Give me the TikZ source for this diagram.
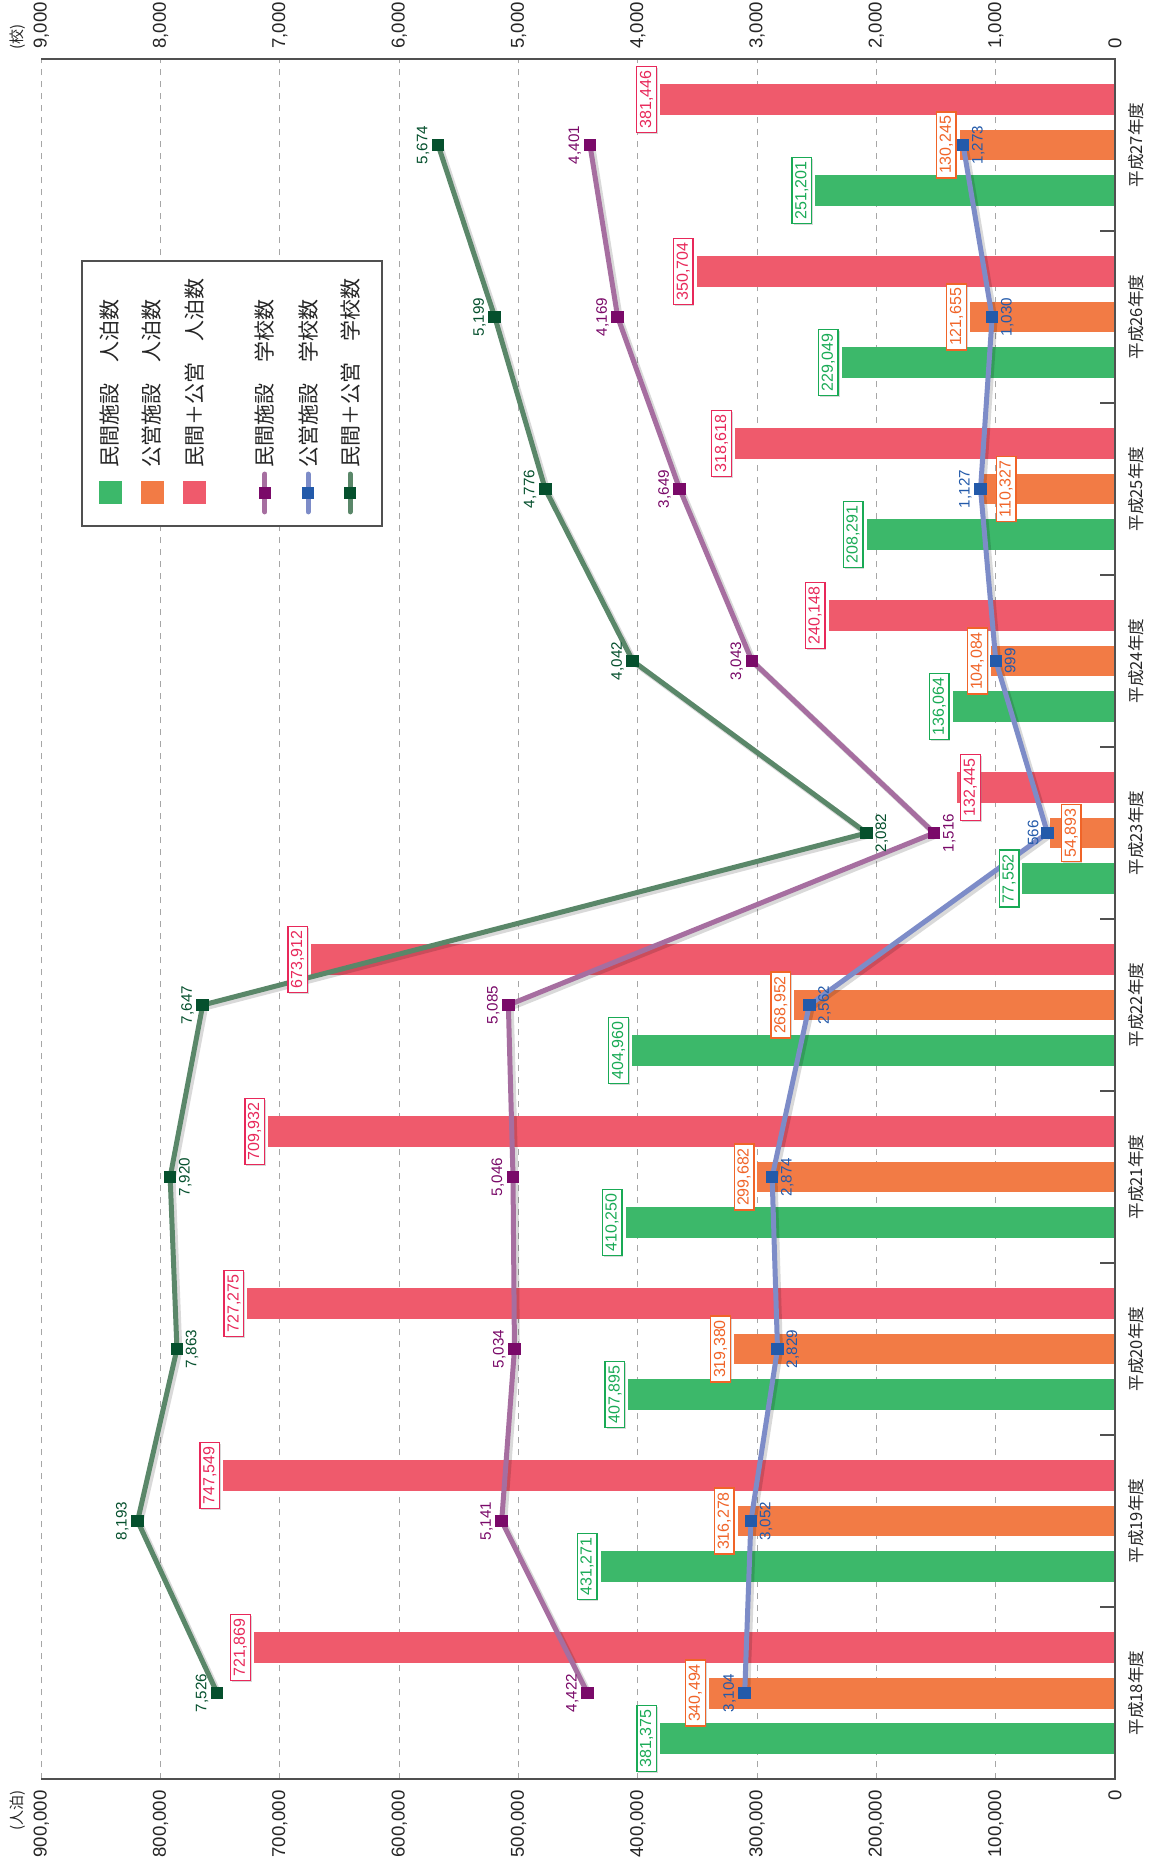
\documentclass[tikz,border=0pt]{standalone}
\usepackage{fontspec}
\setmainfont{Liberation Sans}
\newfontfamily\cjk{Noto Sans CJK JP}
\usetikzlibrary{calc,shadows}

\definecolor{cBarMin}{RGB}{60,184,106}
\definecolor{cBarPub}{RGB}{242,123,69}
\definecolor{cBarTot}{RGB}{239,90,108}
\definecolor{cLblMin}{RGB}{25,170,85}
\definecolor{cLblPub}{RGB}{240,100,40}
\definecolor{cLblTot}{RGB}{232,40,90}
\definecolor{cLnMin}{RGB}{166,110,160}
\definecolor{cMkMin}{RGB}{122,10,105}
\definecolor{cLnPub}{RGB}{125,140,200}
\definecolor{cMkPub}{RGB}{35,90,170}
\definecolor{cLnTot}{RGB}{90,135,105}
\definecolor{cMkTot}{RGB}{5,80,45}
\definecolor{cAxis}{RGB}{80,80,80}

\begin{document}
\begin{tikzpicture}[
  every node/.style={inner sep=1pt},
  bmin/.style={fill=cBarMin},
  bpub/.style={fill=cBarPub},
  btot/.style={fill=cBarTot},
  blbl/.style={draw=#1, text=#1, fill=white, line width=.7pt, inner xsep=2pt, inner ysep=1.6pt, outer sep=1.8pt, font=\fontsize{8}{9}\selectfont, drop shadow={shadow xshift=.7pt, shadow yshift=-.7pt, opacity=.3}},
  plbl/.style={text=#1, inner sep=.3pt, outer sep=.8pt, font=\fontsize{7.6}{8}\selectfont},
  sline/.style={line width=2.5pt, draw=#1, line join=round, line cap=round},
  sshadow/.style={line width=3pt, draw=black, opacity=.15, line join=round, transform canvas={xshift=1.2pt, yshift=-1.2pt}},
  smark/.style={fill=#1, rectangle, minimum size=6.3pt, inner sep=0pt},
  gridln/.style={gray!70, line width=.5pt, dash pattern=on 3pt off 3pt},
  frameln/.style={cAxis, line width=1pt},
  axlbl/.style={font=\fontsize{9.3}{10}\selectfont, text=black!85, inner sep=0pt},
  yrlbl/.style={font=\cjk\fontsize{8.3}{9}\selectfont, text=black!85, inner sep=0pt},
  unitlbl/.style={font=\cjk\fontsize{7.5}{8}\selectfont, text=black!85, inner sep=0pt},
  legtxt/.style={font=\cjk\fontsize{10.5}{11}\selectfont, text=black!85, inner sep=0pt},
  swatch/.style={fill=#1, minimum size=11.5pt, inner sep=0pt},
]
  \useasboundingbox (0,0) rectangle (577pt,-932pt);
  \fill[white] (0,0) rectangle (577pt,-932pt);

  \begin{scope}[shift={(557.5pt,-889.5pt)}, rotate=90, x=86pt, y=0.5965pt, transform shape]
  % grid
  \draw[gridln] (0,100) -- (10,100) (0,200) -- (10,200) (0,300) -- (10,300)
    (0,400) -- (10,400) (0,500) -- (10,500) (0,600) -- (10,600)
    (0,700) -- (10,700) (0,800) -- (10,800) (0,900) -- (10,900);

  % bars
  \fill[bmin] (0.145,0) rectangle (0.325,381.375);
  \fill[bpub] (0.41,0) rectangle (0.59,340.494);
  \fill[btot] (0.675,0) rectangle (0.855,721.869);
  \fill[bmin] (1.145,0) rectangle (1.325,431.271);
  \fill[bpub] (1.41,0) rectangle (1.59,316.278);
  \fill[btot] (1.675,0) rectangle (1.855,747.549);
  \fill[bmin] (2.145,0) rectangle (2.325,407.895);
  \fill[bpub] (2.41,0) rectangle (2.59,319.380);
  \fill[btot] (2.675,0) rectangle (2.855,727.275);
  \fill[bmin] (3.145,0) rectangle (3.325,410.250);
  \fill[bpub] (3.41,0) rectangle (3.59,299.682);
  \fill[btot] (3.675,0) rectangle (3.855,709.932);
  \fill[bmin] (4.145,0) rectangle (4.325,404.960);
  \fill[bpub] (4.41,0) rectangle (4.59,268.952);
  \fill[btot] (4.675,0) rectangle (4.855,673.912);
  \fill[bmin] (5.145,0) rectangle (5.325,77.552);
  \fill[bpub] (5.41,0) rectangle (5.59,54.893);
  \fill[btot] (5.675,0) rectangle (5.855,132.445);
  \fill[bmin] (6.145,0) rectangle (6.325,136.064);
  \fill[bpub] (6.41,0) rectangle (6.59,104.084);
  \fill[btot] (6.675,0) rectangle (6.855,240.148);
  \fill[bmin] (7.145,0) rectangle (7.325,208.291);
  \fill[bpub] (7.41,0) rectangle (7.59,110.327);
  \fill[btot] (7.675,0) rectangle (7.855,318.618);
  \fill[bmin] (8.145,0) rectangle (8.325,229.049);
  \fill[bpub] (8.41,0) rectangle (8.59,121.655);
  \fill[btot] (8.675,0) rectangle (8.855,350.704);
  \fill[bmin] (9.145,0) rectangle (9.325,251.201);
  \fill[bpub] (9.41,0) rectangle (9.59,130.245);
  \fill[btot] (9.675,0) rectangle (9.855,381.446);

  % frame and ticks
  \draw[frameln] (0,900) -- (0,0) -- (10,0) -- (10,900);
  \draw[frameln, line width=.7pt] (1,0) -- (1,12.6) (2,0) -- (2,12.6) (3,0) -- (3,12.6)
    (4,0) -- (4,12.6) (5,0) -- (5,12.6) (6,0) -- (6,12.6)
    (7,0) -- (7,12.6) (8,0) -- (8,12.6) (9,0) -- (9,12.6);

  % school points
  \coordinate (smin18) at (0.5,442.2);
  \coordinate (smin19) at (1.5,514.1);
  \coordinate (smin20) at (2.5,503.4);
  \coordinate (smin21) at (3.5,504.6);
  \coordinate (smin22) at (4.5,508.5);
  \coordinate (smin23) at (5.5,151.6);
  \coordinate (smin24) at (6.5,304.3);
  \coordinate (smin25) at (7.5,364.9);
  \coordinate (smin26) at (8.5,416.9);
  \coordinate (smin27) at (9.5,440.1);
  \coordinate (spub18) at (0.5,310.4);
  \coordinate (spub19) at (1.5,305.2);
  \coordinate (spub20) at (2.5,282.9);
  \coordinate (spub21) at (3.5,287.4);
  \coordinate (spub22) at (4.5,256.2);
  \coordinate (spub23) at (5.5,56.6);
  \coordinate (spub24) at (6.5,99.9);
  \coordinate (spub25) at (7.5,112.7);
  \coordinate (spub26) at (8.5,103.0);
  \coordinate (spub27) at (9.5,127.3);
  \coordinate (stot18) at (0.5,752.6);
  \coordinate (stot19) at (1.5,819.3);
  \coordinate (stot20) at (2.5,786.3);
  \coordinate (stot21) at (3.5,792.0);
  \coordinate (stot22) at (4.5,764.7);
  \coordinate (stot23) at (5.5,208.2);
  \coordinate (stot24) at (6.5,404.2);
  \coordinate (stot25) at (7.5,477.6);
  \coordinate (stot26) at (8.5,519.9);
  \coordinate (stot27) at (9.5,567.4);

  \draw[sshadow] (smin18) -- (smin19) -- (smin20) -- (smin21) -- (smin22) -- (smin23) -- (smin24) -- (smin25) -- (smin26) -- (smin27);
  \draw[sshadow] (spub18) -- (spub19) -- (spub20) -- (spub21) -- (spub22) -- (spub23) -- (spub24) -- (spub25) -- (spub26) -- (spub27);
  \draw[sshadow] (stot18) -- (stot19) -- (stot20) -- (stot21) -- (stot22) -- (stot23) -- (stot24) -- (stot25) -- (stot26) -- (stot27);
  \draw[sline=cLnMin] (smin18) -- (smin19) -- (smin20) -- (smin21) -- (smin22) -- (smin23) -- (smin24) -- (smin25) -- (smin26) -- (smin27);
  \draw[sline=cLnPub] (spub18) -- (spub19) -- (spub20) -- (spub21) -- (spub22) -- (spub23) -- (spub24) -- (spub25) -- (spub26) -- (spub27);
  \draw[sline=cLnTot] (stot18) -- (stot19) -- (stot20) -- (stot21) -- (stot22) -- (stot23) -- (stot24) -- (stot25) -- (stot26) -- (stot27);

  \node[smark=cMkMin] (mmin18) at (smin18) {};
  \node[smark=cMkMin] (mmin19) at (smin19) {};
  \node[smark=cMkMin] (mmin20) at (smin20) {};
  \node[smark=cMkMin] (mmin21) at (smin21) {};
  \node[smark=cMkMin] (mmin22) at (smin22) {};
  \node[smark=cMkMin] (mmin23) at (smin23) {};
  \node[smark=cMkMin] (mmin24) at (smin24) {};
  \node[smark=cMkMin] (mmin25) at (smin25) {};
  \node[smark=cMkMin] (mmin26) at (smin26) {};
  \node[smark=cMkMin] (mmin27) at (smin27) {};
  \node[smark=cMkPub] (mpub18) at (spub18) {};
  \node[smark=cMkPub] (mpub19) at (spub19) {};
  \node[smark=cMkPub] (mpub20) at (spub20) {};
  \node[smark=cMkPub] (mpub21) at (spub21) {};
  \node[smark=cMkPub] (mpub22) at (spub22) {};
  \node[smark=cMkPub] (mpub23) at (spub23) {};
  \node[smark=cMkPub] (mpub24) at (spub24) {};
  \node[smark=cMkPub] (mpub25) at (spub25) {};
  \node[smark=cMkPub] (mpub26) at (spub26) {};
  \node[smark=cMkPub] (mpub27) at (spub27) {};
  \node[smark=cMkTot] (mtot18) at (stot18) {};
  \node[smark=cMkTot] (mtot19) at (stot19) {};
  \node[smark=cMkTot] (mtot20) at (stot20) {};
  \node[smark=cMkTot] (mtot21) at (stot21) {};
  \node[smark=cMkTot] (mtot22) at (stot22) {};
  \node[smark=cMkTot] (mtot23) at (stot23) {};
  \node[smark=cMkTot] (mtot24) at (stot24) {};
  \node[smark=cMkTot] (mtot25) at (stot25) {};
  \node[smark=cMkTot] (mtot26) at (stot26) {};
  \node[smark=cMkTot] (mtot27) at (stot27) {};

  % bar values
  \node[blbl=cLblMin, anchor=south] (lmin18) at (0.235,381.375) {381,375};
  \node[blbl=cLblPub, anchor=south] (lpub18) at (0.5,340.494) {340,494};
  \node[blbl=cLblTot, anchor=south] (ltot18) at (0.765,721.869) {721,869};
  \node[blbl=cLblMin, anchor=south] (lmin19) at (1.235,431.271) {431,271};
  \node[blbl=cLblPub, anchor=south] (lpub19) at (1.5,316.278) {316,278};
  \node[blbl=cLblTot, anchor=south] (ltot19) at (1.765,747.549) {747,549};
  \node[blbl=cLblMin, anchor=south] (lmin20) at (2.235,407.895) {407,895};
  \node[blbl=cLblPub, anchor=south] (lpub20) at (2.5,319.380) {319,380};
  \node[blbl=cLblTot, anchor=south] (ltot20) at (2.765,727.275) {727,275};
  \node[blbl=cLblMin, anchor=south] (lmin21) at (3.235,410.250) {410,250};
  \node[blbl=cLblPub, anchor=south] (lpub21) at (3.5,299.682) {299,682};
  \node[blbl=cLblTot, anchor=south] (ltot21) at (3.765,709.932) {709,932};
  \node[blbl=cLblMin, anchor=south] (lmin22) at (4.235,404.960) {404,960};
  \node[blbl=cLblPub, anchor=south] (lpub22) at (4.5,268.952) {268,952};
  \node[blbl=cLblTot, anchor=south] (ltot22) at (4.765,673.912) {673,912};
  \node[blbl=cLblMin, anchor=south] (lmin23) at (5.235,77.552) {77,552};
  \node[blbl=cLblPub, anchor=north] (lpub23) at (5.5,47.9) {54,893};
  \node[blbl=cLblTot, anchor=north] (ltot23) at (5.765,132.445) {132,445};
  \node[blbl=cLblMin, anchor=south] (lmin24) at (6.235,136.064) {136,064};
  \node[blbl=cLblPub, anchor=south] (lpub24) at (6.5,104.084) {104,084};
  \node[blbl=cLblTot, anchor=south] (ltot24) at (6.765,240.148) {240,148};
  \node[blbl=cLblMin, anchor=south] (lmin25) at (7.235,208.291) {208,291};
  \node[blbl=cLblPub, anchor=north] (lpub25) at (7.5,102.6) {110,327};
  \node[blbl=cLblTot, anchor=south] (ltot25) at (7.765,318.618) {318,618};
  \node[blbl=cLblMin, anchor=south] (lmin26) at (8.235,229.049) {229,049};
  \node[blbl=cLblPub, anchor=south] (lpub26) at (8.5,121.655) {121,655};
  \node[blbl=cLblTot, anchor=south] (ltot26) at (8.765,350.704) {350,704};
  \node[blbl=cLblMin, anchor=south] (lmin27) at (9.235,251.201) {251,201};
  \node[blbl=cLblPub, anchor=south] (lpub27) at (9.5,130.245) {130,245};
  \node[blbl=cLblTot, anchor=south] (ltot27) at (9.765,381.446) {381,446};

  % school values
  \node[plbl=cMkMin, anchor=south] (tmin18) at (mmin18.north) {4,422};
  \node[plbl=cMkMin, anchor=south] (tmin19) at (mmin19.north) {5,141};
  \node[plbl=cMkMin, anchor=south] (tmin20) at (mmin20.north) {5,034};
  \node[plbl=cMkMin, anchor=south] (tmin21) at (mmin21.north) {5,046};
  \node[plbl=cMkMin, anchor=south] (tmin22) at (mmin22.north) {5,085};
  \node[plbl=cMkMin, anchor=north] (tmin23) at (mmin23.south) {1,516};
  \node[plbl=cMkMin, anchor=south] (tmin24) at (mmin24.north) {3,043};
  \node[plbl=cMkMin, anchor=south] (tmin25) at (mmin25.north) {3,649};
  \node[plbl=cMkMin, anchor=south] (tmin26) at (mmin26.north) {4,169};
  \node[plbl=cMkMin, anchor=south] (tmin27) at (mmin27.north) {4,401};
  \node[plbl=cMkPub, anchor=south] (tpub18) at (mpub18.north) {3,104};
  \node[plbl=cMkPub, anchor=north] (tpub19) at (mpub19.south) {3,052};
  \node[plbl=cMkPub, anchor=north] (tpub20) at (mpub20.south) {2,829};
  \node[plbl=cMkPub, anchor=north] (tpub21) at (mpub21.south) {2,874};
  \node[plbl=cMkPub, anchor=north] (tpub22) at (mpub22.south) {2,562};
  \node[plbl=cMkPub, anchor=south] (tpub23) at (mpub23.north) {566};
  \node[plbl=cMkPub, anchor=north] (tpub24) at (mpub24.south) {999};
  \node[plbl=cMkPub, anchor=south] (tpub25) at (mpub25.north) {1,127};
  \node[plbl=cMkPub, anchor=north] (tpub26) at (mpub26.south) {1,030};
  \node[plbl=cMkPub, anchor=north] (tpub27) at (mpub27.south) {1,273};
  \node[plbl=cMkTot, anchor=south] (ttot18) at (mtot18.north) {7,526};
  \node[plbl=cMkTot, anchor=south] (ttot19) at (mtot19.north) {8,193};
  \node[plbl=cMkTot, anchor=north] (ttot20) at (mtot20.south) {7,863};
  \node[plbl=cMkTot, anchor=north] (ttot21) at (mtot21.south) {7,920};
  \node[plbl=cMkTot, anchor=south] (ttot22) at (mtot22.north) {7,647};
  \node[plbl=cMkTot, anchor=north] (ttot23) at (mtot23.south) {2,082};
  \node[plbl=cMkTot, anchor=south] (ttot24) at (mtot24.north) {4,042};
  \node[plbl=cMkTot, anchor=south] (ttot25) at (mtot25.north) {4,776};
  \node[plbl=cMkTot, anchor=south] (ttot26) at (mtot26.north) {5,199};
  \node[plbl=cMkTot, anchor=south] (ttot27) at (mtot27.north) {5,674};

  % axes
  \node[axlbl, anchor=east] (ax0) at (-0.064,0) {0};
  \node[axlbl, anchor=east] (ax1) at (-0.064,100) {100,000};
  \node[axlbl, anchor=east] (ax2) at (-0.064,200) {200,000};
  \node[axlbl, anchor=east] (ax3) at (-0.064,300) {300,000};
  \node[axlbl, anchor=east] (ax4) at (-0.064,400) {400,000};
  \node[axlbl, anchor=east] (ax5) at (-0.064,500) {500,000};
  \node[axlbl, anchor=east] (ax6) at (-0.064,600) {600,000};
  \node[axlbl, anchor=east] (ax7) at (-0.064,700) {700,000};
  \node[axlbl, anchor=east] (ax8) at (-0.064,800) {800,000};
  \node[axlbl, anchor=east] (ax9) at (-0.064,900) {900,000};
  \node[unitlbl, anchor=east] (axu) at (-0.064,919.5) {(人泊)};
  \node[axlbl, anchor=west] (bx0) at (10.058,0) {0};
  \node[axlbl, anchor=west] (bx1) at (10.058,100) {1,000};
  \node[axlbl, anchor=west] (bx2) at (10.058,200) {2,000};
  \node[axlbl, anchor=west] (bx3) at (10.058,300) {3,000};
  \node[axlbl, anchor=west] (bx4) at (10.058,400) {4,000};
  \node[axlbl, anchor=west] (bx5) at (10.058,500) {5,000};
  \node[axlbl, anchor=west] (bx6) at (10.058,600) {6,000};
  \node[axlbl, anchor=west] (bx7) at (10.058,700) {7,000};
  \node[axlbl, anchor=west] (bx8) at (10.058,800) {8,000};
  \node[axlbl, anchor=west] (bx9) at (10.058,900) {9,000};
  \node[unitlbl, anchor=west] (bxu) at (10.052,919.5) {(校)};

  \node[yrlbl, anchor=north] (yr18) at (0.5,-10.9) {平成18年度};
  \node[yrlbl, anchor=north] (yr19) at (1.5,-10.9) {平成19年度};
  \node[yrlbl, anchor=north] (yr20) at (2.5,-10.9) {平成20年度};
  \node[yrlbl, anchor=north] (yr21) at (3.5,-10.9) {平成21年度};
  \node[yrlbl, anchor=north] (yr22) at (4.5,-10.9) {平成22年度};
  \node[yrlbl, anchor=north] (yr23) at (5.5,-10.9) {平成23年度};
  \node[yrlbl, anchor=north] (yr24) at (6.5,-10.9) {平成24年度};
  \node[yrlbl, anchor=north] (yr25) at (7.5,-10.9) {平成25年度};
  \node[yrlbl, anchor=north] (yr26) at (8.5,-10.9) {平成26年度};
  \node[yrlbl, anchor=north] (yr27) at (9.5,-10.9) {平成27年度};

  % legend
  \draw[cAxis, line width=.8pt, fill=white] (7.285,614.4) rectangle (8.826,865.9);
  \node[swatch=cBarMin] (kmin) at (7.477,842.4) {};
  \node[legtxt, anchor=west] (kmint) at (7.622,842.4) {民間施設　人泊数};
  \node[swatch=cBarPub] (kpub) at (7.477,807.2) {};
  \node[legtxt, anchor=west] (kpubt) at (7.622,807.2) {公営施設　人泊数};
  \node[swatch=cBarTot] (ktot) at (7.477,771.2) {};
  \node[legtxt, anchor=west] (ktott) at (7.622,771.2) {民間＋公営　人泊数};
  \coordinate (ka4) at (7.367,712.5);
  \coordinate (kb4) at (7.587,712.5);
  \draw[sline=cLnMin] (ka4) -- (kb4);
  \node[smark=cMkMin] (km4) at (7.477,712.5) {};
  \node[legtxt, anchor=west] (kt4) at (7.622,712.5) {民間施設　学校数};
  \coordinate (ka5) at (7.367,676.4);
  \coordinate (kb5) at (7.587,676.4);
  \draw[sline=cLnPub] (ka5) -- (kb5);
  \node[smark=cMkPub] (km5) at (7.477,676.4) {};
  \node[legtxt, anchor=west] (kt5) at (7.622,676.4) {公営施設　学校数};
  \coordinate (ka6) at (7.367,641.2);
  \coordinate (kb6) at (7.587,641.2);
  \draw[sline=cLnTot] (ka6) -- (kb6);
  \node[smark=cMkTot] (km6) at (7.477,641.2) {};
  \node[legtxt, anchor=west] (kt6) at (7.622,641.2) {民間＋公営　学校数};
  \end{scope}
\end{tikzpicture}
\end{document}
